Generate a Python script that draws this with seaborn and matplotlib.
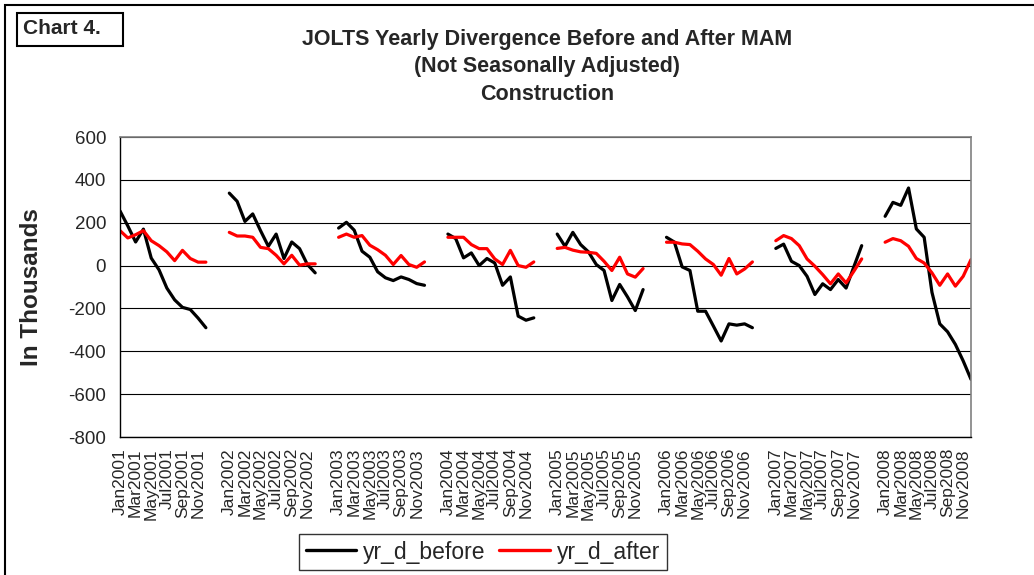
import numpy as np
import pandas as pd
import matplotlib
matplotlib.use("Agg")
import matplotlib.pyplot as plt
import seaborn as sb
from matplotlib.lines import Line2D
from matplotlib.patches import Rectangle

YEARS = [2001, 2002, 2003, 2004, 2005, 2006, 2007, 2008]
MONTHS = ["Jan", "Feb", "Mar", "Apr", "May", "Jun", "Jul", "Aug", "Sep", "Oct", "Nov", "Dec"]

# values (thousands), one list per year
YR_D_BEFORE = {
    2001: [255, 185, 110, 170, 35, -20, -105, -160, -195, -205, -245, -290],
    2002: [338, 300, 206, 241, 163, 90, 147, 33, 110, 79, 5, -34],
    2003: [175, 202, 165, 67, 39, -29, -57, -70, -53, -65, -84, -92],
    2004: [147, 126, 36, 59, 0, 33, 12, -92, -53, -236, -255, -244],
    2005: [147, 90, 155, 98, 64, 5, -23, -163, -88, -146, -210, -112],
    2006: [132, 110, -6, -23, -213, -213, -282, -352, -272, -278, -272, -290],
    2007: [80, 100, 20, 0, -50, -135, -85, -112, -65, -105, -5, 93],
    2008: [230, 295, 281, 362, 171, 132, -125, -272, -309, -368, -445, -531],
}
YR_D_AFTER = {
    2001: [163, 129, 144, 163, 116, 93, 64, 23, 71, 33, 16, 16],
    2002: [155, 138, 138, 132, 85, 79, 48, 8, 48, 2, 8, 8],
    2003: [132, 147, 132, 140, 95, 74, 48, 5, 47, 5, -8, 17],
    2004: [132, 132, 132, 98, 79, 79, 31, 5, 71, 0, -8, 17],
    2005: [80, 85, 72, 64, 62, 57, 20, -23, 39, -39, -54, -14],
    2006: [109, 109, 101, 98, 67, 31, 5, -45, 33, -39, -16, 17],
    2007: [116, 140, 126, 93, 31, -3, -42, -85, -39, -81, -26, 31],
    2008: [109, 126, 116, 90, 33, 12, -34, -92, -39, -96, -50, 28],
}
SERIES = ["yr_d_before", "yr_d_after"]
COLORS = {"yr_d_before": "black", "yr_d_after": "#ff0000"}
SLOTS = 14  # 12 months + 2 empty categories between years in the original sheet

sb.set_style("white")
plt.rcParams["font.family"] = ["Liberation Sans", "DejaVu Sans"]
plt.rcParams["axes.unicode_minus"] = False

rows = []
for k, yr in enumerate(YEARS):
    for m in range(12):
        pos = k * SLOTS + m
        rows.append((pos, YR_D_BEFORE[yr][m], "yr_d_before", yr))
        rows.append((pos, YR_D_AFTER[yr][m], "yr_d_after", yr))
df = pd.DataFrame(rows, columns=["pos", "value", "series", "year"])

W, H = 1034, 575
fig = plt.figure(figsize=(W / 100, H / 100), dpi=100)
ax = fig.add_axes([120 / W, 1 - 437 / H, (971 - 120) / W, 300 / H])

sb.lineplot(data=df, x="pos", y="value", hue="series", hue_order=SERIES, units="year",
            estimator=None, palette=COLORS, lw=2.3, ax=ax, legend=False)

n_pos = (len(YEARS) - 1) * SLOTS + 12
ax.set_xlim(0, n_pos - 1)
ax.set_ylim(-800, 600)
ax.set_yticks(range(-800, 601, 200))
ax.yaxis.grid(True, color="black", lw=0.8)
ax.xaxis.grid(False)

ticks = list(range(0, n_pos, 2))
labels = []
for t in ticks:
    k, m = divmod(t, SLOTS)
    labels.append(f"{MONTHS[m]}{YEARS[k]}" if m < 12 else "")
ax.set_xticks(ticks)
ax.set_xticklabels(labels, rotation=90, fontsize=12.5, va="top")
ax.tick_params(axis="x", length=5, width=0.8, color="black", pad=3)
ax.tick_params(axis="y", length=5, width=0.8, color="black", pad=5, labelsize=13.5)
ax.set_xlabel("")
ax.set_ylabel("In Thousands", fontsize=17.5, fontweight="bold")
ax.yaxis.set_label_coords(-(120 - 43) / (971 - 120), 0.5)

for side in ["top", "right"]:
    ax.spines[side].set_color("#808080")
    ax.spines[side].set_linewidth(1.2)
for side in ["left", "bottom"]:
    ax.spines[side].set_color("black")
    ax.spines[side].set_linewidth(1.0)

fig.text(547 / W, 1 - 67 / H,
         "JOLTS Yearly Divergence Before and After MAM\n(Not Seasonally Adjusted)\nConstruction",
         ha="center", va="center", fontsize=15.5, fontweight="bold", linespacing=1.38)

# outer chart frame and the "Chart 4." tag
fig.patches.append(Rectangle((5 / W, -0.2), 1.2, 1.2 - 5 / H, transform=fig.transFigure,
                             fill=False, ec="black", lw=1.5))
fig.patches.append(Rectangle((17 / W, 1 - 46 / H), 106 / W, 33 / H, transform=fig.transFigure,
                             fill=False, ec="black", lw=1.5))
fig.text(23 / W, 1 - 29 / H, "Chart 4.", ha="left", va="center", fontsize=15, fontweight="bold")

handles = [Line2D([], [], color=COLORS[s], lw=2.4) for s in SERIES]
leg = fig.legend(handles, SERIES, loc="center", bbox_to_anchor=(483 / W, 1 - 552 / H),
                 ncol=2, fontsize=16.5, frameon=True, fancybox=False, handlelength=2.2,
                 handletextpad=0.3, columnspacing=0.6, borderpad=0.3)
leg.get_frame().set_edgecolor("black")
leg.get_frame().set_linewidth(1.0)

fig.savefig("out.png", dpi=100)
